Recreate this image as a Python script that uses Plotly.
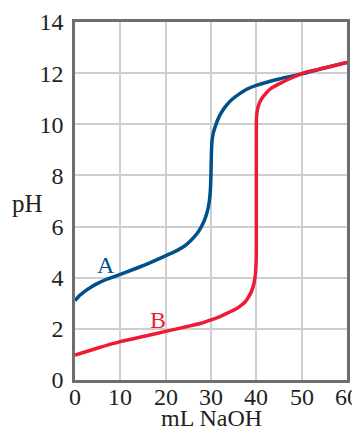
import plotly.graph_objects as go

# Curve A (blue)
a_ml = [0, 1, 2, 3.5, 5, 7, 10, 15, 20, 22, 24, 25.5, 26.8, 27.8, 28.6, 29.2, 29.6, 29.85, 30, 30.08, 30.2, 30.5, 31, 31.8, 33, 34.5, 36.5, 38, 40, 45, 50, 55, 60]
a_ph = [3.1, 3.3, 3.45, 3.63, 3.78, 3.94, 4.13, 4.47, 4.86, 5.02, 5.22, 5.45, 5.7, 5.97, 6.27, 6.6, 6.95, 7.4, 8.1, 8.8, 9.3, 9.65, 9.95, 10.3, 10.65, 10.95, 11.22, 11.38, 11.52, 11.77, 11.97, 12.2, 12.42]

# Curve B (red)
b_ml = [0, 5, 10, 15, 20, 25, 28, 30, 32, 34, 35.5, 36.5, 37.5, 38.3, 39, 39.5, 39.8, 39.95, 40, 40, 40.05, 40.3, 40.8, 41.5, 43, 45, 48, 51, 55, 60]
b_ph = [0.97, 1.25, 1.5, 1.7, 1.9, 2.1, 2.23, 2.35, 2.48, 2.65, 2.78, 2.9, 3.05, 3.25, 3.5, 3.8, 4.15, 4.6, 5.2, 9.8, 10.3, 10.62, 10.88, 11.08, 11.37, 11.58, 11.83, 12.04, 12.2, 12.42]

x_ticks = [0, 10, 20, 30, 40, 50, 60]
y_ticks = [0, 2, 4, 6, 8, 10, 12, 14]

BLUE = "#00508c"
RED = "#ee1b33"
FONT = "Liberation Serif"
TXT = "#231f20"
FS = 24

fig = go.Figure()
fig.add_trace(go.Scatter(x=a_ml, y=a_ph, mode="lines",
                         line=dict(color=BLUE, width=3.5, shape="spline", smoothing=0.6),
                         showlegend=False, hoverinfo="skip"))
fig.add_trace(go.Scatter(x=b_ml, y=b_ph, mode="lines",
                         line=dict(color=RED, width=3.5, shape="spline", smoothing=0.6),
                         showlegend=False, hoverinfo="skip"))

fig.add_annotation(x=6.9, y=4.5, text="A", showarrow=False,
                   font=dict(family=FONT, size=FS, color=BLUE))
fig.add_annotation(x=18.2, y=2.33, text="B", showarrow=False,
                   font=dict(family=FONT, size=FS, color=RED))
fig.add_annotation(x=-0.176, y=0.494, xref="paper", yref="paper", text="pH", showarrow=False,
                   xanchor="center", yanchor="middle",
                   font=dict(family=FONT, size=25, color=TXT))
fig.add_annotation(x=0.5, y=-0.105, xref="paper", yref="paper", text="mL NaOH", showarrow=False,
                   xanchor="center", yanchor="middle",
                   font=dict(family=FONT, size=24, color=TXT))
# x tick labels, positioned on the x scale
for t in x_ticks:
    fig.add_annotation(x=t, y=-0.047, xref="x", yref="paper", text=str(t), showarrow=False,
                       xanchor="center", yanchor="middle",
                       font=dict(family=FONT, size=FS, color=TXT))

fig.update_layout(
    width=352, height=422,
    margin=dict(l=67, r=13, t=14, b=50, autoexpand=False),
    paper_bgcolor="white", plot_bgcolor="white",
    font=dict(family=FONT, size=FS, color=TXT),
    xaxis=dict(range=[0, 60], tickvals=x_ticks, showgrid=True, gridcolor="#cfcfcf", gridwidth=1.5,
               zeroline=False, showline=True, mirror=True, linecolor="#6d6e71", linewidth=2.5,
               ticks="", showticklabels=False, fixedrange=True, automargin=False),
    yaxis=dict(range=[0, 14], tickvals=y_ticks, showgrid=True, gridcolor="#cfcfcf", gridwidth=1.5,
               zeroline=False, showline=True, mirror=True, linecolor="#6d6e71", linewidth=2.5,
               ticks="", ticklen=0, ticklabelstandoff=4, fixedrange=True, automargin=False),
)
fig.write_html("out.html")
